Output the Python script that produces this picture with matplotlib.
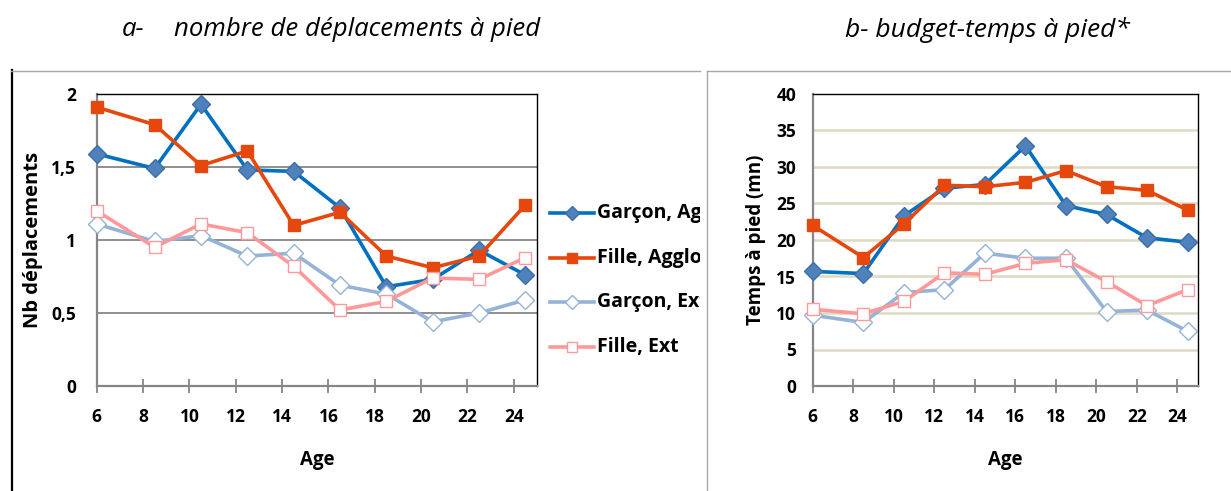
import matplotlib
matplotlib.use("Agg")
import matplotlib.pyplot as plt
from matplotlib.lines import Line2D

plt.rcParams['font.family'] = ['Open Sans', 'DejaVu Sans']

# ---------------- data ----------------
ages = [6, 8.5, 10.5, 12.5, 14.5, 16.5, 18.5, 20.5, 22.5, 24.5]
series_labels = ["Garçon, Agglo", "Fille, Agglo", "Garçon, Ext", "Fille, Ext"]

# a- nombre de déplacements à pied
nb_garcon_agglo = [1.59, 1.49, 1.93, 1.48, 1.47, 1.22, 0.68, 0.73, 0.93, 0.76]
nb_fille_agglo = [1.91, 1.79, 1.51, 1.61, 1.10, 1.19, 0.89, 0.81, 0.89, 1.24]
nb_garcon_ext = [1.11, 0.99, 1.03, 0.89, 0.91, 0.69, 0.63, 0.44, 0.50, 0.59]
nb_fille_ext = [1.20, 0.95, 1.11, 1.05, 0.82, 0.52, 0.58, 0.74, 0.73, 0.88]

# b- budget-temps à pied (mn)
bt_garcon_agglo = [15.7, 15.4, 23.3, 27.1, 27.6, 32.9, 24.7, 23.5, 20.3, 19.7]
bt_fille_agglo = [22.0, 17.6, 22.2, 27.5, 27.3, 27.9, 29.5, 27.3, 26.8, 24.1]
bt_garcon_ext = [9.7, 8.7, 12.8, 13.2, 18.2, 17.5, 17.5, 10.2, 10.4, 7.5]
bt_fille_ext = [10.5, 9.9, 11.6, 15.5, 15.3, 16.8, 17.3, 14.3, 11.0, 13.2]

x_ticks = [6, 8, 10, 12, 14, 16, 18, 20, 22, 24]
left_yticks = [0, 0.5, 1, 1.5, 2]
left_yticklabels = ["0", "0,5", "1", "1,5", "2"]
right_yticks = [0, 5, 10, 15, 20, 25, 30, 35, 40]
right_yticklabels = [str(v) for v in right_yticks]

# ---------------- styles ----------------
styles = [
    dict(color="#0070C0", marker="D", markerfacecolor="#4F81BD",
         markeredgecolor="#3B6DA8", markeredgewidth=1.0),
    dict(color="#E5470D", marker="s", markerfacecolor="#E5470D",
         markeredgecolor="#E5470D", markeredgewidth=1.0),
    dict(color="#95B3D7", marker="D", markerfacecolor="white",
         markeredgecolor="#95B3D7", markeredgewidth=1.0),
    dict(color="#FF9999", marker="s", markerfacecolor="white",
         markeredgecolor="#FF9999", markeredgewidth=1.0),
]
msizes = [9, 8.5, 9, 8.5]
leg_msizes = [7.5, 7, 7.5, 7]

W, H = 1231, 491
fig = plt.figure(figsize=(W / 100, H / 100), dpi=100)


def fx(px):
    return px / W


def fy(py):
    return 1 - py / H


def make_axes(x0, x1, ylim, yticks, yticklabels, gridcolor, gridlw, ypad):
    ax = fig.add_axes([fx(x0), fy(386), fx(x1) - fx(x0), fy(94) - fy(386)])
    ax.set_xlim(6, 25)
    ax.set_ylim(*ylim)
    ax.set_xticks(x_ticks)
    ax.set_xticklabels([str(t) for t in x_ticks], fontweight="bold", fontsize=12.5)
    ax.set_yticks(yticks)
    ax.set_yticklabels(yticklabels, fontweight="bold", fontsize=12.5)
    for v in yticks[1:-1]:
        ax.axhline(v, color=gridcolor, lw=gridlw, zorder=0)
    ax.tick_params(axis="y", length=0, pad=ypad)
    ax.tick_params(axis="x", direction="inout", length=10, width=1.3,
                   color="#868686", pad=11)
    for s in ("left", "bottom"):
        ax.spines[s].set_color("#868686")
        ax.spines[s].set_linewidth(1.6)
    for s in ("top", "right"):
        ax.spines[s].set_color("black")
        ax.spines[s].set_linewidth(1.0)
    ax.set_xlabel("Age", fontweight="bold", fontsize=13.5, labelpad=17)
    return ax


axL = make_axes(96.7, 537, (0, 2), left_yticks, left_yticklabels,
                "#868686", 1.3, 15)
axR = make_axes(812.7, 1197.7, (0, 40), right_yticks, right_yticklabels,
                "#DDD9C3", 1.8, 12)

for ys, st, ms in zip([nb_garcon_agglo, nb_fille_agglo, nb_garcon_ext, nb_fille_ext],
                      styles, msizes):
    axL.plot(ages, ys, lw=2.6, markersize=ms, clip_on=False, zorder=3, **st)
for ys, st, ms in zip([bt_garcon_agglo, bt_fille_agglo, bt_garcon_ext, bt_fille_ext],
                      styles, msizes):
    axR.plot(ages, ys, lw=2.6, markersize=ms, clip_on=False, zorder=3, **st)

axL.set_ylabel("Nb déplacements", fontweight="bold", fontsize=14.5, labelpad=6)
axR.set_ylabel("Temps à pied (mn)", fontweight="bold", fontsize=13.5, labelpad=7)

# ---------------- legend (clipped at panel edge) ----------------
axLeg = fig.add_axes([fx(545), fy(370), fx(700) - fx(545), fy(180) - fy(370)])
axLeg.axis("off")
axLeg.set_xlim(545, 700)
axLeg.set_ylim(370, 180)
leg_rows = [213, 258, 302, 347]
for lab, st, ms, yy in zip(series_labels, styles, leg_msizes, leg_rows):
    line_st = {k: v for k, v in st.items() if k == "color"}
    axLeg.plot([550, 594], [yy, yy], lw=2.6, clip_on=False, **line_st)
    axLeg.plot([572], [yy], lw=0, markersize=ms, clip_on=False, **st)
    axLeg.text(597, yy, lab, fontsize=14, fontweight="bold", va="center",
               ha="left", clip_on=True)

# ---------------- panel frames ----------------
fig.add_artist(Line2D([fx(11.5), fx(11.5)], [fy(70), fy(491)], color="black", lw=1.6))
fig.add_artist(Line2D([fx(11), fx(700)], [fy(70.5), fy(70.5)], color="#A6A6A6", lw=1.0))
fig.add_artist(Line2D([fx(707), fx(707)], [fy(70.5), fy(491)], color="#A6A6A6", lw=1.0))
fig.add_artist(Line2D([fx(707), fx(1231)], [fy(70.5), fy(70.5)], color="#A6A6A6", lw=1.0))

# ---------------- titles ----------------
fig.text(fx(122), fy(30), "a-", fontsize=18.5, fontstyle="italic", va="center", ha="left")
fig.text(fx(174), fy(30), "nombre de déplacements à pied", fontsize=18.5,
         fontstyle="italic", va="center", ha="left")
fig.text(fx(845), fy(30), "b- budget-temps à pied*", fontsize=19,
         fontstyle="italic", va="center", ha="left")

fig.savefig("out.png", dpi=100)
